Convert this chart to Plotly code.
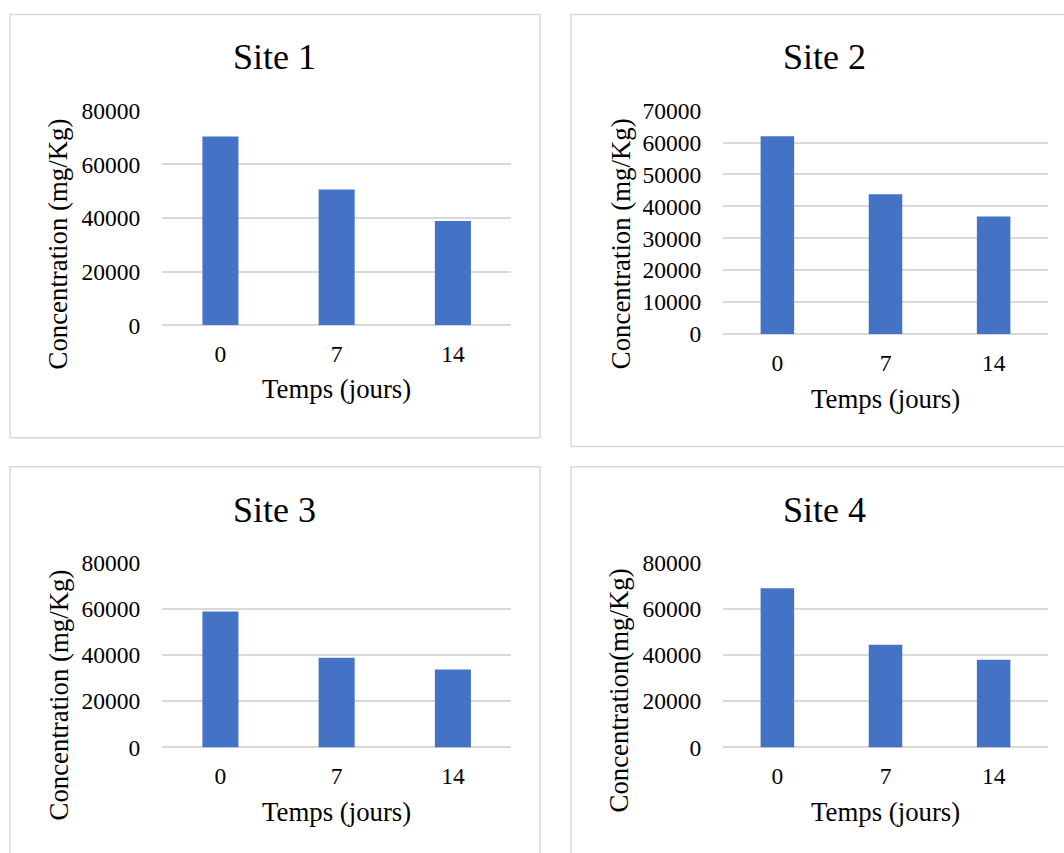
import plotly.graph_objects as go

W, H = 1064, 853

days = ["0", "7", "14"]
site1 = [70400, 50600, 38900]
site2 = [62000, 43800, 36800]
site3 = [58800, 38800, 33700]
site4 = [68900, 44400, 38000]
titles = ["Site 1", "Site 2", "Site 3", "Site 4"]
ytitles = ["Concentration (mg/Kg)", "Concentration (mg/Kg)",
           "Concentration (mg/Kg)", "Concentration(mg/Kg)"]
xtitle = "Temps (jours)"
ymax = [80000, 70000, 80000, 80000]
ydtick = [20000, 10000, 20000, 20000]

FONT = "Liberation Serif"
BAR = "#4472C4"
GRID = "#d9d9d9"

# vertical calibration (observed render offset/scale)
Y_OFF, Y_SCALE = 11.5, 0.971


def px(x):
    return x / W


def py(y):
    yy = (y - Y_OFF) / Y_SCALE
    return 1 - yy / H


# plot-area pixel boxes: (left, right, top, bottom)
boxes = [
    (162.3, 511.0, 109.3, 324.3),
    (723.3, 1047.7, 109.3, 333.0),
    (162.3, 511.0, 562.0, 747.0),
    (723.3, 1047.7, 562.0, 747.0),
]
title_pos = [(274, 55.5), (824.5, 55.5), (274, 509), (824.3, 509)]
xtitle_pos = [(336.7, 388), (885.5, 398), (336.7, 812), (885.5, 812)]
ytitle_pos = [(58.3, 243), (620.5, 242.5), (59, 695), (619, 690)]
borders = [(10, 13, 540, 437), (571, 13, 1080, 445.7),
           (10, 466, 540, 880), (571, 466, 1080, 880)]

fig = go.Figure()
series = [site1, site2, site3, site4]
annotations = []
shapes = []
layout_axes = {}
for i, vals in enumerate(series):
    n = "" if i == 0 else str(i + 1)
    fig.add_trace(go.Bar(
        x=days, y=vals, width=0.31,
        marker=dict(color=BAR, line=dict(width=0)),
        xaxis="x" + n, yaxis="y" + n, showlegend=False,
        hoverinfo="x+y",
    ))
    l, r, t, b = boxes[i]
    layout_axes["xaxis" + n] = dict(
        domain=[px(l), px(r)], anchor="y" + n, type="category",
        range=[-0.5, 2.5], showgrid=False, zeroline=False, showline=False,
        ticks="", ticklabelstandoff=12,
        tickfont=dict(family=FONT, size=23.5, color="#000000"),
        fixedrange=True,
    )
    layout_axes["yaxis" + n] = dict(
        domain=[py(b), py(t)], anchor="x" + n,
        range=[0, ymax[i]], dtick=ydtick[i], tick0=0,
        showgrid=True, gridcolor=GRID, gridwidth=1.5,
        zeroline=True, zerolinecolor=GRID, zerolinewidth=1.5,
        showline=False, ticks="", ticklabelstandoff=21,
        tickformat="d",
        tickfont=dict(family=FONT, size=23.5, color="#000000"),
        fixedrange=True,
    )
    tx, ty = title_pos[i]
    annotations.append(dict(
        text=titles[i], x=px(tx), y=py(ty), xref="paper", yref="paper",
        xanchor="center", yanchor="middle", showarrow=False,
        font=dict(family=FONT, size=36, color="#000000"),
    ))
    ax_, ay_ = xtitle_pos[i]
    annotations.append(dict(
        text=xtitle, x=px(ax_), y=py(ay_), xref="paper", yref="paper",
        xanchor="center", yanchor="middle", showarrow=False,
        font=dict(family=FONT, size=26.8, color="#000000"),
    ))
    yx, yy = ytitle_pos[i]
    annotations.append(dict(
        text=ytitles[i], x=px(yx), y=py(yy), xref="paper", yref="paper",
        xanchor="center", yanchor="middle", showarrow=False, textangle=-90,
        font=dict(family=FONT, size=26.8, color="#000000"),
    ))
    bl, bt, br, bb = borders[i]
    shapes.append(dict(
        type="rect", xref="paper", yref="paper",
        x0=px(bl), x1=px(br), y0=py(bb), y1=py(bt),
        line=dict(color=GRID, width=1.5), fillcolor="rgba(0,0,0,0)",
        layer="below",
    ))

fig.update_layout(
    width=W, height=H,
    margin=dict(l=0, r=0, t=0, b=0, pad=0),
    paper_bgcolor="white", plot_bgcolor="white",
    annotations=annotations, shapes=shapes,
    **layout_axes,
)

fig.write_html("out.html", config=dict(displayModeBar=False))
